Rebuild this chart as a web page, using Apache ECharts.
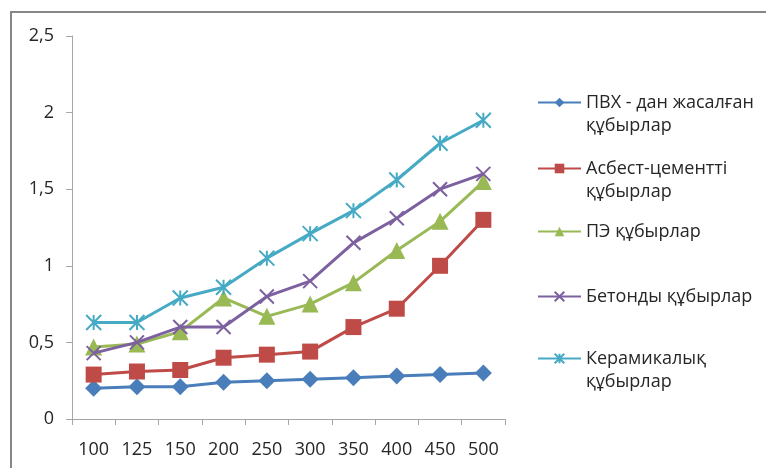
<!DOCTYPE html>
<html>
<head>
<meta charset="utf-8">
<script src="https://cdn.jsdelivr.net/npm/echarts@6/dist/echarts.min.js"></script>
<style>
  html, body { margin: 0; padding: 0; background: #fff; }
  #chart { width: 766px; height: 468px; }
</style>
</head>
<body>
<div id="chart"></div>
<script>
// Pipe diameters (mm)
const categories = ['100', '125', '150', '200', '250', '300', '350', '400', '450', '500'];

const seriesNames = [
  'ПВХ - дан жасалған\nқұбырлар',
  'Асбест-цементті\nқұбырлар',
  'ПЭ құбырлар',
  'Бетонды құбырлар',
  'Керамикалық\nқұбырлар'
];

const pvcValues      = [0.20, 0.21, 0.21, 0.24, 0.25, 0.26, 0.27, 0.28, 0.29, 0.30];
const asbestosValues = [0.29, 0.31, 0.32, 0.40, 0.42, 0.44, 0.60, 0.72, 1.00, 1.30];
const peValues       = [0.47, 0.49, 0.57, 0.79, 0.67, 0.75, 0.89, 1.10, 1.29, 1.55];
const concreteValues = [0.43, 0.50, 0.60, 0.60, 0.80, 0.90, 1.15, 1.31, 1.50, 1.60];
const ceramicValues  = [0.63, 0.63, 0.79, 0.86, 1.05, 1.21, 1.36, 1.56, 1.80, 1.95];

const yTicks = { min: 0, max: 2.5, interval: 0.5 };

const colors = ['#4a7ebb', '#be4b48', '#98b954', '#7d60a0', '#46aac5'];
const FONT = 'Open Sans';
const FONT_SIZE = 18;
const TEXT_COLOR = '#262626';

const crossPath = 'path://M0,0L10,10M10,0L0,10';
const starPath = 'path://M0,0L10,10M10,0L0,10M5,0L5,10';

const symbols = [
  { symbol: 'diamond', size: 17, stroke: false },
  { symbol: 'rect', size: 16, stroke: false },
  { symbol: 'triangle', size: 17, stroke: false },
  { symbol: crossPath, size: 14, stroke: true },
  { symbol: starPath, size: 15, stroke: true }
];

const valueSets = [pvcValues, asbestosValues, peValues, concreteValues, ceramicValues];

const series = valueSets.map((vals, i) => ({
  name: seriesNames[i],
  type: 'line',
  data: vals,
  symbol: symbols[i].symbol,
  symbolSize: symbols[i].size,
  showAllSymbol: true,
  lineStyle: { color: colors[i], width: 3 },
  itemStyle: symbols[i].stroke
    ? { color: colors[i], borderColor: colors[i], borderWidth: 2 }
    : { color: colors[i], borderWidth: 0 },
  emphasis: { disabled: true },
  animation: false,
  z: 2 + i
}));

// One legend block per series so each entry sits at its own height;
// top padding keeps the first line of a two-line label level with the icon
const LINE_H = 23;
const legendIconY = [102, 168, 231, 296, 358];
const legends = seriesNames.map((name, i) => {
  const twoLines = name.indexOf('\n') >= 0;
  return {
    data: [name],
    left: 537,
    top: legendIconY[i] - 8.5,
    itemWidth: 43,
    itemHeight: 12,
    itemGap: 4,
    selectedMode: false,
    padding: 0,
    formatter: n => n.split('\n').map(s => '{t|' + s + '}').join('\n'),
    textStyle: {
      padding: twoLines ? [LINE_H, 0, 0, 0] : 0,
      rich: {
        t: { fontFamily: FONT, fontSize: FONT_SIZE, color: TEXT_COLOR, lineHeight: LINE_H }
      }
    }
  };
});

const chart = echarts.init(document.getElementById('chart'), null, { renderer: 'canvas' });
chart.setOption({
  backgroundColor: '#ffffff',
  animation: false,
  grid: { left: 72, right: 261, top: 36, bottom: 49 },
  legend: legends,
  xAxis: {
    type: 'category',
    data: categories,
    boundaryGap: true,
    axisLine: { lineStyle: { color: '#a6a6a6', width: 1 } },
    axisTick: { show: true, length: 6, lineStyle: { color: '#a6a6a6' } },
    axisLabel: { fontFamily: FONT, fontSize: FONT_SIZE, color: TEXT_COLOR, margin: 22, interval: 0 },
    splitLine: { show: false }
  },
  yAxis: {
    type: 'value',
    min: yTicks.min,
    max: yTicks.max,
    interval: yTicks.interval,
    axisLine: { show: true, lineStyle: { color: '#a6a6a6', width: 1 } },
    axisTick: { show: true, length: 6, lineStyle: { color: '#a6a6a6' } },
    axisLabel: {
      fontFamily: FONT, fontSize: FONT_SIZE, color: TEXT_COLOR, margin: 18,
      formatter: v => String(v).replace('.', ',')
    },
    splitLine: { show: false }
  },
  graphic: [
    {
      type: 'polyline',
      shape: { points: [[11, 480], [11, 12], [780, 12]] },
      style: { stroke: '#868686', lineWidth: 2, fill: null },
      silent: true
    }
  ],
  series: series
});
</script>
</body>
</html>
